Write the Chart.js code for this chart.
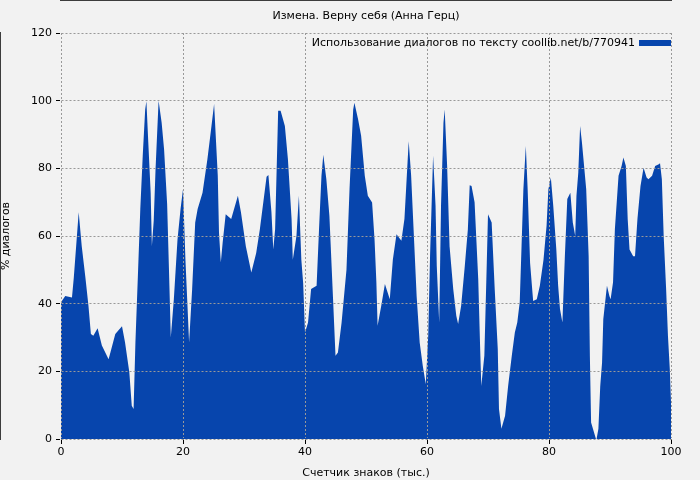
<!DOCTYPE html>
<html><head><meta charset="utf-8">
<script src="https://cdn.jsdelivr.net/npm/chart.js@4"></script>
<style>html,body{margin:0;background:#f2f2f2}#w{width:700px;height:480px}</style>
</head><body><div id="w"><canvas id="c"></canvas></div>
<script>
const chartTitle = "Измена. Верну себя (Анна Герц)";
const seriesLabel = "Использование диалогов по тексту coollib.net/b/770941";
const xLabel = "Счетчик знаков (тыс.)";
const yLabel = "% диалогов";
const xs = [0,0.7,1.8,2.1,2.9,3.4,4,4.5,4.9,5.3,6,6.7,7.8,8.1,8.9,10,10.5,11.2,11.6,11.9,12.2,12.6,13,13.4,13.8,14,14.3,14.7,14.9,15.2,15.5,16,16.5,16.9,17.4,17.7,18,18.5,19.1,19.6,20,20.4,21,21.5,22,22.4,23.2,24,24.6,25.1,25.7,25.9,26.2,26.5,27,27.9,29,29.5,30.3,31.2,32,32.6,33.7,34,34.5,34.8,35.1,35.6,36,36.7,37.2,37.8,38,38.6,39,39.4,39.7,40,40.5,41,41.9,42.3,42.7,43,43.5,44,44.6,45,45.4,46,46.8,47.3,47.9,48.1,48.7,49.2,49.8,50.3,51,51.4,51.7,51.9,52.5,53.1,53.9,54.4,55,55.8,56.3,56.6,57,57.4,57.8,58.3,58.8,59.3,59.8,60.2,60.5,60.7,61,61.4,61.6,62,62.3,62.7,62.9,63.3,63.7,64.3,64.8,65.1,65.6,66.2,66.7,67,67.3,67.8,68.4,68.7,68.9,69.4,69.8,70,70.6,71.1,71.6,71.8,72.2,72.8,73.3,73.9,74.4,74.8,75.2,75.5,75.8,76.2,76.5,76.9,77.4,78,78.5,79.1,79.6,79.9,80.3,80.7,81.2,81.5,81.8,82.2,82.6,83,83.5,83.9,84.3,84.5,84.8,85.1,85.4,86.1,86.5,86.7,86.9,87.7,87.8,88.1,88.4,88.7,88.9,89.5,89.9,90.1,90.5,90.8,91.4,91.9,92.2,92.6,92.9,93.2,93.8,94.1,94.5,95,95.5,96,96.3,96.9,97.4,98,98.2,98.5,98.8,99.2,99.5,99.8,100];
const ys = [40.4,42.3,41.8,47.7,67,57,47.7,39.4,31,30.5,32.7,27.6,23.6,25.6,31,33.3,28.5,19.7,9.8,8.9,28.5,48,68,83.7,97.4,99.8,88,72.8,57,64.5,79.7,100,93.5,85.6,69.4,50,30,41.3,59,68,73.8,53,28.5,44.3,64,68,72.8,82.7,91.5,99,77.8,61,52.2,58,66.4,65,71.9,67,57,49.2,55,62,77.5,78,67,56,62,97,97,92.5,82.7,65,53,60,71.9,53,46,31.5,34.4,44.3,45.3,62,77.8,84,76.8,66,41.3,24.6,25.6,34.4,50,73.8,97.4,99.4,94.5,89.6,77.8,71.9,69.9,59,46.3,33.5,39.4,45.8,41.3,53,60.5,58.6,65,74.8,88,77.8,62,42.3,28.5,21.7,16.2,30.5,54,66,83.7,69,51.2,34.4,69,93.5,97.4,80.7,57,44.3,36.4,34,39.4,51.2,62,75,74.8,70,47.2,27.6,15.7,24.6,52,66.4,64,44.3,26.6,8.9,3,6.9,15.7,24.6,31.5,34.4,40.4,57,73.8,86.6,73.8,52,40.8,41.3,45.3,53,63,73.8,77.3,68.9,56,45.3,38.4,34.4,54,70.9,72.8,64,60,71.9,78.7,92.5,87.6,73.8,54,24.6,4.9,0,0,3,15.7,22.6,35.4,45.3,42.3,41.3,46.3,62,77.8,80.7,83.2,80.7,65,56,54,54,65,74.8,80.2,77.3,76.8,77.8,80.7,81.2,81.5,76.8,60,44.3,30.5,20.7,10.8,5.9];
const xTicks = [0,20,40,60,80,100];
const yTicks = [0,20,40,60,80,100,120];
const color = '#0745ad';
const F = 'DejaVu Sans';

const deco = {
  id:'deco',
  beforeDraw(ch){const c=ch.ctx;c.save();c.fillStyle='#f2f2f2';c.fillRect(0,0,ch.width,ch.height);c.restore();},
  afterDraw(ch){
    const c=ch.ctx, a=ch.chartArea;c.save();
    c.fillStyle='#000';c.font='11px "'+F+'"';c.textAlign='center';c.textBaseline='middle';
    c.fillText(chartTitle,(a.left+a.right)/2,16);
    c.textAlign='right';c.fillText(seriesLabel,a.right-36,43);
    c.fillStyle=color;c.fillRect(a.right-32,40,32,6);
    c.restore();
  }
};
new Chart(document.getElementById('c'),{
  type:'line',
  data:{datasets:[{data:xs.map((x,i)=>({x,y:ys[i]})),borderWidth:0,borderColor:color,backgroundColor:color,fill:'origin',pointRadius:0,tension:0}]},
  options:{responsive:true,maintainAspectRatio:false,animation:false,
    layout:{padding:{top:33,right:29,left:0,bottom:0}},
    plugins:{legend:{display:false},tooltip:{enabled:false}},
    scales:{
      x:{type:'linear',min:0,max:100,afterBuildTicks:s=>{s.ticks=xTicks.map(v=>({value:v}));},
        afterFit:s=>{s.height=41;},
        grid:{color:'#999',tickColor:'#000',tickLength:5,z:1},border:{color:'#000',width:1.5,dash:[2,2]},
        ticks:{color:'#000',font:{family:F,size:11},padding:2,maxRotation:0},
        title:{display:true,text:xLabel,color:'#000',font:{family:F,size:11},padding:{top:0,bottom:0}}},
      y:{min:0,max:120,afterBuildTicks:s=>{s.ticks=yTicks.map(v=>({value:v}));},
        afterFit:s=>{s.width=61;},
        grid:{color:'#999',tickColor:'#000',tickLength:5,z:1},border:{color:'#000',width:1.5,dash:[2,2]},
        ticks:{color:'#000',font:{family:F,size:11},padding:4},
        title:{display:true,text:yLabel,color:'#000',font:{family:F,size:11},padding:{top:0,bottom:4}}}
    }},
  plugins:[deco]
});
</script></body></html>
